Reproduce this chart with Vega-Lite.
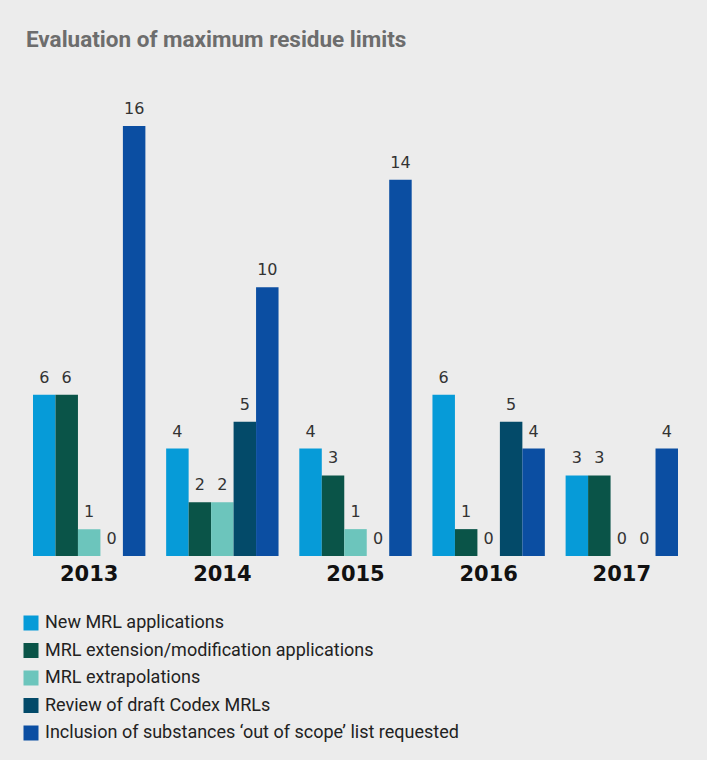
{
  "$schema": "https://vega.github.io/schema/vega-lite/v6.json",
  "width": 645,
  "height": 430,
  "autosize": {"type": "none"},
  "padding": {"left": 33, "top": 126, "right": 29, "bottom": 204},
  "background": "#ececec",
  "title": {
    "text": "Evaluation of maximum residue limits",
    "anchor": "start",
    "frame": "group",
    "dx": -7,
    "offset": 50,
    "font": "Roboto",
    "fontSize": 22.5,
    "fontWeight": "bold",
    "color": "#6d6d6d"
  },
  "config": {
    "view": {"stroke": null},
    "axis": {"grid": false, "domain": false, "ticks": false}
  },
  "data": {
    "values": [
      {"year": "2013", "series": "New MRL applications", "value": 6},
      {"year": "2013", "series": "MRL extension/modification applications", "value": 6},
      {"year": "2013", "series": "MRL extrapolations", "value": 1},
      {"year": "2013", "series": "Review of draft Codex MRLs", "value": 0},
      {"year": "2013", "series": "Inclusion of substances ‘out of scope’ list requested", "value": 16},
      {"year": "2014", "series": "New MRL applications", "value": 4},
      {"year": "2014", "series": "MRL extension/modification applications", "value": 2},
      {"year": "2014", "series": "MRL extrapolations", "value": 2},
      {"year": "2014", "series": "Review of draft Codex MRLs", "value": 5},
      {"year": "2014", "series": "Inclusion of substances ‘out of scope’ list requested", "value": 10},
      {"year": "2015", "series": "New MRL applications", "value": 4},
      {"year": "2015", "series": "MRL extension/modification applications", "value": 3},
      {"year": "2015", "series": "MRL extrapolations", "value": 1},
      {"year": "2015", "series": "Review of draft Codex MRLs", "value": 0},
      {"year": "2015", "series": "Inclusion of substances ‘out of scope’ list requested", "value": 14},
      {"year": "2016", "series": "New MRL applications", "value": 6},
      {"year": "2016", "series": "MRL extension/modification applications", "value": 1},
      {"year": "2016", "series": "MRL extrapolations", "value": 0},
      {"year": "2016", "series": "Review of draft Codex MRLs", "value": 5},
      {"year": "2016", "series": "Inclusion of substances ‘out of scope’ list requested", "value": 4},
      {"year": "2017", "series": "New MRL applications", "value": 3},
      {"year": "2017", "series": "MRL extension/modification applications", "value": 3},
      {"year": "2017", "series": "MRL extrapolations", "value": 0},
      {"year": "2017", "series": "Review of draft Codex MRLs", "value": 0},
      {"year": "2017", "series": "Inclusion of substances ‘out of scope’ list requested", "value": 4}
    ]
  },
  "encoding": {
    "x": {
      "field": "year",
      "type": "nominal",
      "scale": {"paddingInner": 0.156, "paddingOuter": 0},
      "axis": {
        "title": null,
        "labelAngle": 0,
        "labelFont": "DejaVu Sans",
        "labelFontSize": 21,
        "labelFontWeight": "bold",
        "labelColor": "#111111",
        "labelPadding": 7
      }
    },
    "xOffset": {
      "field": "series",
      "type": "nominal",
      "sort": null,
      "scale": {"paddingInner": 0, "paddingOuter": 0}
    },
    "y": {
      "field": "value",
      "type": "quantitative",
      "scale": {"domain": [0, 16], "nice": false},
      "axis": null
    }
  },
  "layer": [
    {
      "mark": {"type": "bar"},
      "encoding": {
        "color": {
          "field": "series",
          "type": "nominal",
          "sort": null,
          "scale": {
            "domain": [
              "New MRL applications",
              "MRL extension/modification applications",
              "MRL extrapolations",
              "Review of draft Codex MRLs",
              "Inclusion of substances ‘out of scope’ list requested"
            ],
            "range": ["#069bd8", "#0a5448", "#6cc5bc", "#034a69", "#0b4ea2"]
          },
          "legend": {
            "title": null,
            "orient": "none",
            "legendX": -11,
            "legendY": 488,
            "padding": 0,
            "symbolType": "square",
            "symbolSize": 225,
            "symbolStrokeWidth": 0,
            "symbolOpacity": 1,
            "labelFont": "Roboto",
            "labelFontSize": 18,
            "labelColor": "#222222",
            "labelOffset": 5,
            "rowPadding": 9.5,
            "labelLimit": 600
          }
        }
      }
    },
    {
      "mark": {"type": "text", "dy": -9, "baseline": "bottom", "font": "DejaVu Sans", "fontSize": 16, "color": "#333333"},
      "encoding": {
        "text": {"field": "value", "type": "quantitative"}
      }
    }
  ]
}
